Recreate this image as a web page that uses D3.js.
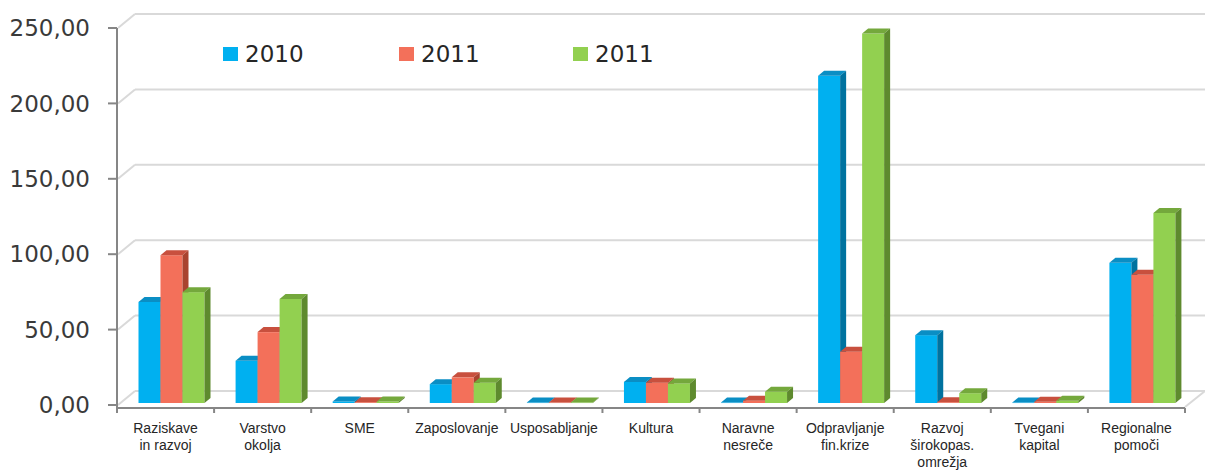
<!DOCTYPE html>
<html lang="sl">
<head>
<meta charset="utf-8">
<title>3D stolpci</title>
<script src="https://d3js.org/d3.v7.min.js"></script>
<style>
  body { margin: 0; background: #fff; }
  svg { display: block; }
</style>
</head>
<body>
<div id="chart"></div>
<script>
// data
const categories = ["Raziskave\nin razvoj", "Varstvo\nokolja", "SME", "Zaposlovanje", "Usposabljanje",
  "Kultura", "Naravne\nnesreče", "Odpravljanje\nfin.krize", "Razvoj\nširokopas.\nomrežja",
  "Tvegani\nkapital", "Regionalne\npomoči"];
const seriesNames = ["2010", "2011", "2011"];
const values2010 = [67, 28, 1, 12.5, 0.3, 14, 0.3, 217, 45, 0.3, 93];
const values2011a = [98, 47, 0.5, 17, 0.3, 13.5, 1.5, 34, 0.5, 0.8, 85];
const values2011b = [73.5, 69, 1, 13.5, 0.3, 13, 7.5, 245, 6.5, 1.5, 126];
const yTicks = [0, 50, 100, 150, 200, 250];

const seriesValues = [values2010, values2011a, values2011b];
const frontColors = ["#00b0f0", "#f3705a", "#92d050"];
const topColors = ["#0a8ec4", "#c8503e", "#74a83c"];
const sideColors = ["#00729f", "#a9432f", "#5e8a2e"];

const width = 1205, height = 472;
const wallDx = 17, wallDy = -14;   // depth of the back wall
const barDx = 6, barDy = -5;       // depth of a single bar

const svg = d3.select("#chart").append("svg")
  .attr("width", width).attr("height", height);

const x = d3.scaleBand().domain(d3.range(categories.length)).range([117, 1185]);
const y = d3.scaleLinear().domain([0, 250]).range([405, 28]);
const xs = d3.scaleBand().domain(d3.range(seriesNames.length)).range([21.5, 87.5]);

const fmt = v => d3.format(".2f")(v).replace(".", ",");

// back wall gridlines + left wall diagonals
const grid = svg.append("g").attr("stroke", "#d9d9d9").attr("stroke-width", 2).attr("fill", "none");
yTicks.forEach(t => {
  const yy = y(t);
  grid.append("line").attr("x1", 118).attr("y1", yy).attr("x2", 118 + wallDx).attr("y2", yy + wallDy);
  grid.append("line").attr("x1", 118 + wallDx).attr("y1", yy + wallDy).attr("x2", width).attr("y2", yy + wallDy);
});
// right floor edge
grid.append("line").attr("x1", 1185).attr("y1", 407).attr("x2", 1185 + 20).attr("y2", 407 - 16);

// bars
const barBase = y(0) - 2;
categories.forEach((c, i) => {
  const g = svg.append("g");
  seriesValues.forEach((vals, s) => {
    const x0 = x(i) + xs(s), w = xs.bandwidth();
    const yt = y(vals[i]) - 2;
    g.append("rect").attr("x", x0).attr("y", yt).attr("width", w).attr("height", Math.max(0.5, barBase - yt))
      .attr("fill", frontColors[s]);
    g.append("path")
      .attr("d", `M${x0},${yt}L${x0 + barDx},${yt + barDy}L${x0 + w + barDx},${yt + barDy}L${x0 + w},${yt}Z`)
      .attr("fill", topColors[s]);
    g.append("path")
      .attr("d", `M${x0 + w},${yt}L${x0 + w + barDx},${yt + barDy}L${x0 + w + barDx},${barBase + barDy}L${x0 + w},${barBase}Z`)
      .attr("fill", sideColors[s]);
  });
});

// axes
const axisColor = "#868686";
const ax = svg.append("g").attr("stroke", axisColor).attr("stroke-width", 2);
ax.append("line").attr("x1", 117).attr("y1", y(250)).attr("x2", 117).attr("y2", 409);
yTicks.forEach(t => ax.append("line").attr("x1", 108).attr("y1", y(t)).attr("x2", 117).attr("y2", y(t)));
ax.append("line").attr("x1", 116).attr("y1", 408).attr("x2", 1185).attr("y2", 408);
d3.range(categories.length + 1).forEach(i => {
  const xx = i < categories.length ? x(i) : x.range()[1];
  ax.append("line").attr("x1", xx).attr("y1", 408).attr("x2", xx).attr("y2", 413);
});

// y tick labels
svg.append("g").selectAll("text").data(yTicks).join("text")
  .attr("x", 90).attr("y", d => y(d)).attr("dy", "0.36em")
  .attr("text-anchor", "end")
  .attr("font-family", "DejaVu Sans").attr("font-size", 23).attr("fill", "#3a3a3a")
  .text(fmt);

// category labels
const lab = svg.append("g").attr("font-family", "Liberation Sans Narrow, Liberation Sans")
  .attr("font-size", 14).attr("fill", "#262626").attr("text-anchor", "middle");
categories.forEach((c, i) => {
  const t = lab.append("text").attr("x", x(i) + x.bandwidth() / 2).attr("y", 433);
  c.split("\n").forEach((line, k) => {
    t.append("tspan").attr("x", x(i) + x.bandwidth() / 2).attr("dy", k === 0 ? 0 : 17).text(line);
  });
});

// legend
const legendX = [223, 399, 573];
const leg = svg.append("g");
seriesNames.forEach((n, s) => {
  leg.append("rect").attr("x", legendX[s]).attr("y", 47).attr("width", 15).attr("height", 14).attr("fill", frontColors[s]);
  leg.append("text").attr("x", legendX[s] + 22).attr("y", 54).attr("dy", "0.36em")
    .attr("font-family", "DejaVu Sans").attr("font-size", 23).attr("fill", "#262626").text(n);
});
</script>
</body>
</html>
